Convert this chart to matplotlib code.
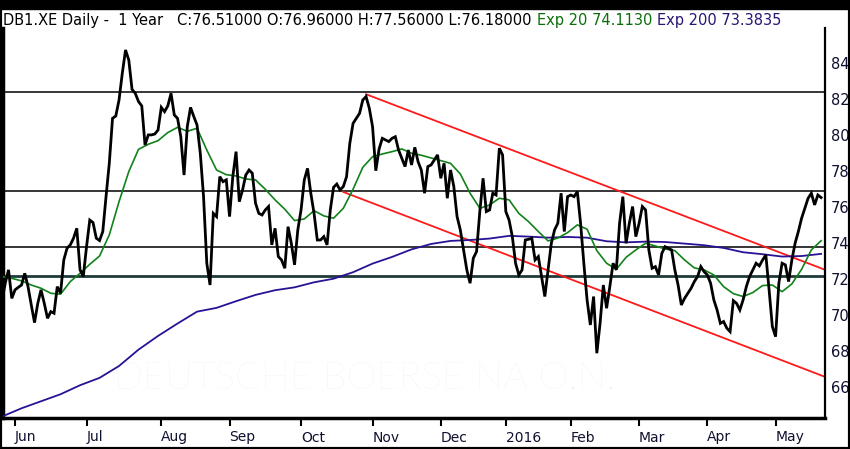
import numpy as np
import pandas as pd
import matplotlib
matplotlib.use('Agg')
import matplotlib.pyplot as plt
from matplotlib.patches import Rectangle

# daily closes, one list per month (Xetra trading days)
close_may15 = [70.82, 71.75, 72.49, 70.91]
close_jun15 = [71.38, 71.52, 71.65, 72.30, 71.56, 70.54, 69.56, 70.63, 71.38, 70.63,
               69.80, 70.17, 70.08, 71.56, 71.19, 73.04, 73.69, 73.88, 74.25, 74.80,
               72.49, 72.12]
close_jul15 = [73.78, 75.26, 75.12, 74.25, 74.12, 74.62, 76.56, 78.41, 80.91, 81.04,
               81.93, 83.41, 84.71, 84.15, 82.52, 82.30, 81.84, 81.60, 79.43, 79.99,
               79.99, 80.04, 80.26]
close_aug15 = [81.52, 81.28, 81.60, 82.30, 81.10, 80.91, 79.89, 77.76, 80.45, 81.52,
               81.01, 80.54, 78.97, 76.56, 72.86, 71.65, 75.63, 75.45, 77.67, 77.39,
               77.49]
close_sep15 = [75.45, 77.67, 79.06, 76.28, 76.93, 77.76, 78.04, 77.86, 76.19, 75.63,
               75.54, 75.82, 76.01, 73.88, 74.80, 73.23, 73.04, 72.58, 74.89, 73.97,
               72.77, 74.71]
close_oct15 = [75.82, 77.49, 78.13, 76.75, 75.63, 74.15, 74.15, 74.34, 73.88, 75.82,
               77.08, 77.26, 76.93, 77.12, 77.67, 79.52, 80.63, 80.91, 81.19, 81.93,
               82.12, 81.47]
close_nov15 = [80.45, 78.00, 79.20, 79.80, 79.71, 79.62, 79.80, 79.89, 79.15, 78.69,
               78.23, 79.15, 78.32, 79.30, 78.50, 78.04, 76.75, 78.23, 78.32, 78.60,
               78.88]
close_dec15 = [77.58, 78.41, 76.47, 78.04, 77.12, 75.45, 74.71, 73.60, 72.49, 71.75,
               73.14, 73.51, 75.73, 77.58, 75.73, 75.82, 76.75, 76.65, 79.25, 78.88]
close_jan16 = [75.73, 75.26, 74.34, 72.86, 72.21, 72.49, 74.15, 74.19, 74.25, 73.04,
               73.23, 72.12, 71.01, 72.49, 73.97, 74.71, 75.08, 76.75, 74.62, 76.56]
close_feb16 = [76.65, 76.56, 76.84, 75.08, 72.86, 70.82, 69.43, 71.01, 67.86, 69.52,
               71.65, 70.36, 71.56, 72.86, 72.49, 75.08, 76.56, 73.97, 75.08, 76.01,
               74.34]
close_mar16 = [75.08, 76.01, 75.82, 73.60, 72.58, 72.67, 72.21, 73.41, 73.78, 73.69,
               73.60, 72.49, 71.65, 70.54, 70.91, 71.19, 71.47, 71.84, 72.12, 72.67,
               72.39]
close_apr16 = [72.21, 71.75, 70.82, 70.26, 69.52, 69.62, 69.25, 69.06, 70.78, 70.63,
               70.26, 70.82, 71.56, 72.12, 72.49, 72.86, 72.71, 73.04, 73.32, 71.38,
               69.34]
close_may16 = [68.78, 71.75, 72.86, 72.77, 71.84, 73.04, 73.97, 74.62, 75.36, 75.91,
               76.47, 76.75, 76.10, 76.65, 76.51]

# Exp 20 read every 3 trading days, Exp 200 every 6
ema20_step = 3
ema20 = [72.12, 72.02, 71.88, 71.65, 71.47, 71.19, 71.14, 71.84, 72.30, 72.80,
         73.26, 74.43, 76.28, 77.95, 79.19, 79.47, 79.67, 80.12, 80.41, 80.19,
         80.36, 79.15, 78.04, 77.78, 77.71, 77.54, 77.49, 76.97, 76.38, 75.86,
         75.23, 75.32, 75.78, 75.49, 75.36, 75.91, 76.97, 78.19, 78.78, 78.93,
         79.06, 79.21, 78.97, 78.86, 78.71, 78.56, 78.41, 77.82, 76.75, 75.91,
         76.10, 76.47, 76.38, 75.63, 75.17, 74.62, 74.10, 74.26, 74.56, 74.99,
         74.75, 73.56, 72.86, 72.52, 73.19, 73.60, 73.97, 73.82, 73.65, 73.56,
         73.04, 72.60, 72.49, 72.21, 71.56, 71.17, 71.01, 71.23, 71.62, 71.65,
         71.28, 71.71, 72.52, 73.60, 74.11]
ema200_step = 6
ema200 = [64.34, 64.80, 65.19, 65.58, 66.08, 66.49, 67.15, 68.06, 68.82, 69.51,
          70.17, 70.38, 70.75, 71.10, 71.36, 71.52, 71.80, 72.00, 72.36, 72.84,
          73.21, 73.63, 73.93, 74.10, 74.15, 74.23, 74.38, 74.34, 74.28, 74.32,
          74.28, 74.08, 74.02, 74.06, 74.04, 73.95, 73.86, 73.71, 73.47, 73.36,
          73.23, 73.26, 73.38]

levels = [82.37, 76.86, 73.78]
support = 72.15

# channel drawn on the chart: two anchor points each
upper_anchor = [('2015-10-29', 82.25), ('2016-05-20', 72.58)]
lower_anchor = [('2015-10-20', 76.82), ('2016-05-20', 66.63)]

holidays = ['2015-12-24', '2015-12-25', '2015-12-31', '2016-01-01', '2016-03-25', '2016-03-28']
dates = pd.bdate_range('2015-05-26', '2016-05-20', freq='C', holidays=holidays)

close = (close_may15 + close_jun15 + close_jul15 + close_aug15 + close_sep15 + close_oct15
         + close_nov15 + close_dec15 + close_jan16 + close_feb16 + close_mar16 + close_apr16
         + close_may16)
n = len(close)
dates = dates[:n]
x = np.arange(n)

W, H = 850, 449
fig = plt.figure(figsize=(W / 100, H / 100), dpi=100)
ax = fig.add_axes([3 / W, 1 - 418 / H, 822 / W, 390 / H])
xmin, xmax = 0.3, 253.2

# watermark
ax.text(0.44, 0.10, 'DEUTSCHE BOERSE NA O.N.', transform=ax.transAxes, fontsize=27.5,
        color='#f1f1f1', family=['Lato', 'DejaVu Sans'], fontweight='light',
        ha='center', va='center', zorder=0)

for lv in levels:
    ax.axhline(lv, color='black', lw=1.1, zorder=1)
ax.axhline(support, color='#1f3a3a', lw=2.0, zorder=1)

for anchor in (upper_anchor, lower_anchor):
    (d0, v0), (d1, v1) = anchor
    i0 = dates.get_loc(pd.Timestamp(d0))
    i1 = dates.get_loc(pd.Timestamp(d1))
    slope = (v1 - v0) / (i1 - i0)
    ax.plot([i0, xmax], [v0, v0 + slope * (xmax - i0)], color='#ff1a1a', lw=1.3, zorder=2)

ax.plot(x[::ema200_step][:len(ema200) - 1].tolist() + [n - 1], ema200, color='#2a1196', lw=1.3, zorder=3)
ax.plot(x[::ema20_step], ema20, color='#11821a', lw=1.2, zorder=3)
ax.plot(x, close, color='black', lw=2.0, zorder=4, solid_joinstyle='miter')

ax.set_xlim(xmin, xmax)
ax.set_ylim(64.26, 85.93)

# month ticks at first trading day of each month
month_idx = [i for i in range(1, n) if dates[i].month != dates[i - 1].month]
month_lab = [('2016' if dates[i].month == 1 else dates[i].strftime('%b')) for i in month_idx]
ax.set_xticks(month_idx)
ax.set_xticklabels(month_lab, ha='left', fontsize=10, color='#101030')
ax.tick_params(axis='x', direction='out', length=6, width=1.5, pad=3, color='black')

ax.yaxis.tick_right()
ax.set_yticks(np.arange(66, 85, 2))
ax.tick_params(axis='y', length=0, pad=4, labelsize=10.5, labelcolor='#101030')

ax.spines['top'].set_visible(False)
ax.spines['left'].set_linewidth(2.5)
ax.spines['bottom'].set_linewidth(2.5)
ax.spines['right'].set_linewidth(1.6)

# header line
hdr_y = 1 - 25 / H
hdr_fs = 10.5
fig.text(3 / W, hdr_y, 'DB1.XE Daily -  1 Year   C:76.51000 O:76.96000 H:77.56000 L:76.18000',
         fontsize=hdr_fs, color='black')
fig.text(537 / W, hdr_y, 'Exp 20 74.1130', fontsize=hdr_fs, color='#0a6e0a')
fig.text(657 / W, hdr_y, 'Exp 200 73.3835', fontsize=hdr_fs, color='#2a1575')

# outer black frame
fig.patches.append(Rectangle((0, 1 - 9 / H), 1, 9 / H, transform=fig.transFigure,
                             color='black', zorder=10))
fig.patches.append(Rectangle((0, 0), 1, 1, transform=fig.transFigure, fill=False,
                             edgecolor='black', lw=3, zorder=10))

fig.savefig('out.png', dpi=100)
